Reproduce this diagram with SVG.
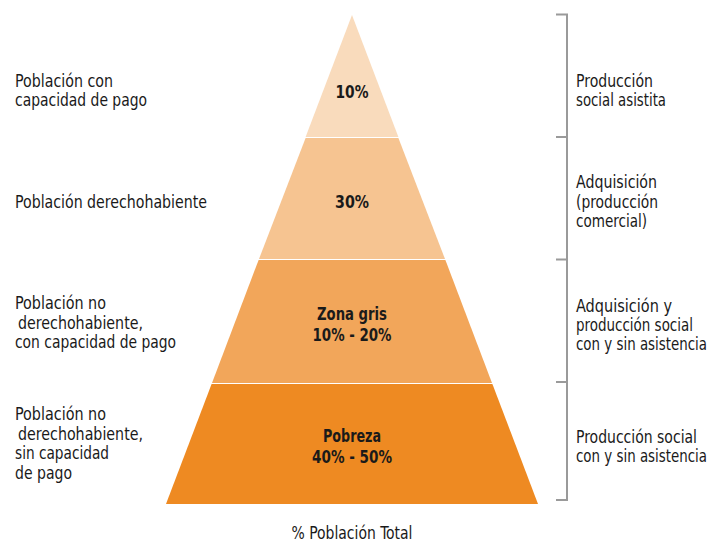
<svg xmlns="http://www.w3.org/2000/svg" width="708" height="541" viewBox="0 0 708 541">
<style>
text{font-family:"DejaVu Sans Condensed","Liberation Sans",sans-serif;font-size:18px;fill:#1a1a1a}
.c{text-anchor:middle;font-weight:bold;font-size:17.5px}
.br{stroke:#9a9a9a;stroke-width:2;fill:none}
</style>
<rect width="708" height="541" fill="#fff"/>
<g id="band1"><polygon points="352,15 398.4,137 305.6,137" fill="#F9DBBC"/><text class="c" x="352" y="98" textLength="33" lengthAdjust="spacingAndGlyphs">10%</text></g>
<g id="band2"><polygon points="305.6,138 398.4,138 445,259 259,259" fill="#F6C491"/><text class="c" x="352" y="208" textLength="34" lengthAdjust="spacingAndGlyphs">30%</text></g>
<g id="band3"><polygon points="258.6,260 445.4,260 492,383 212,383" fill="#F2A65A"/><text class="c" x="352" y="320" textLength="70" lengthAdjust="spacingAndGlyphs">Zona gris</text><text class="c" x="352" y="341" textLength="79" lengthAdjust="spacingAndGlyphs">10% - 20%</text></g>
<g id="band4"><polygon points="211.6,384 492.4,384 538,504 166,504" fill="#EE8A22"/><text class="c" x="352" y="442" textLength="58" lengthAdjust="spacingAndGlyphs">Pobreza</text><text class="c" x="352" y="463" textLength="80" lengthAdjust="spacingAndGlyphs">40% - 50%</text></g>
<g id="left-labels">
<text x="15" y="87" textLength="98" lengthAdjust="spacingAndGlyphs">Población con</text><text x="15" y="106" textLength="132" lengthAdjust="spacingAndGlyphs">capacidad de pago</text>
<text x="15" y="208" textLength="192" lengthAdjust="spacingAndGlyphs">Población derechohabiente</text>
<text x="15" y="309" textLength="91" lengthAdjust="spacingAndGlyphs">Población no</text><text x="18" y="328.5" textLength="125" lengthAdjust="spacingAndGlyphs">derechohabiente,</text><text x="15" y="348" textLength="161" lengthAdjust="spacingAndGlyphs">con capacidad de pago</text>
<text x="15" y="420" textLength="91" lengthAdjust="spacingAndGlyphs">Población no</text><text x="18" y="439.5" textLength="125" lengthAdjust="spacingAndGlyphs">derechohabiente,</text><text x="15" y="459" textLength="94" lengthAdjust="spacingAndGlyphs">sin capacidad</text><text x="15" y="478.5" textLength="57" lengthAdjust="spacingAndGlyphs">de pago</text>
</g>
<g id="connectors">
<path class="br" d="M556,14.5H567V500H556M556,137H567M556,259.5H567M556,382H567"/>
</g>
<g id="right-labels">
<text x="576" y="87" textLength="77" lengthAdjust="spacingAndGlyphs">Producción</text><text x="576" y="106" textLength="90" lengthAdjust="spacingAndGlyphs">social asistita</text>
<text x="576" y="188" textLength="81" lengthAdjust="spacingAndGlyphs">Adquisición</text><text x="576" y="208" textLength="82" lengthAdjust="spacingAndGlyphs">(producción</text><text x="576" y="227" textLength="71" lengthAdjust="spacingAndGlyphs">comercial)</text>
<text x="576" y="312" textLength="96" lengthAdjust="spacingAndGlyphs">Adquisición y</text><text x="576" y="331" textLength="117" lengthAdjust="spacingAndGlyphs">producción social</text><text x="576" y="350" textLength="131" lengthAdjust="spacingAndGlyphs">con y sin asistencia</text>
<text x="576" y="443" textLength="121" lengthAdjust="spacingAndGlyphs">Producción social</text><text x="576" y="462" textLength="131" lengthAdjust="spacingAndGlyphs">con y sin asistencia</text>
</g>
<text x="352" y="539" text-anchor="middle" textLength="121" lengthAdjust="spacingAndGlyphs">% Población Total</text>
</svg>
